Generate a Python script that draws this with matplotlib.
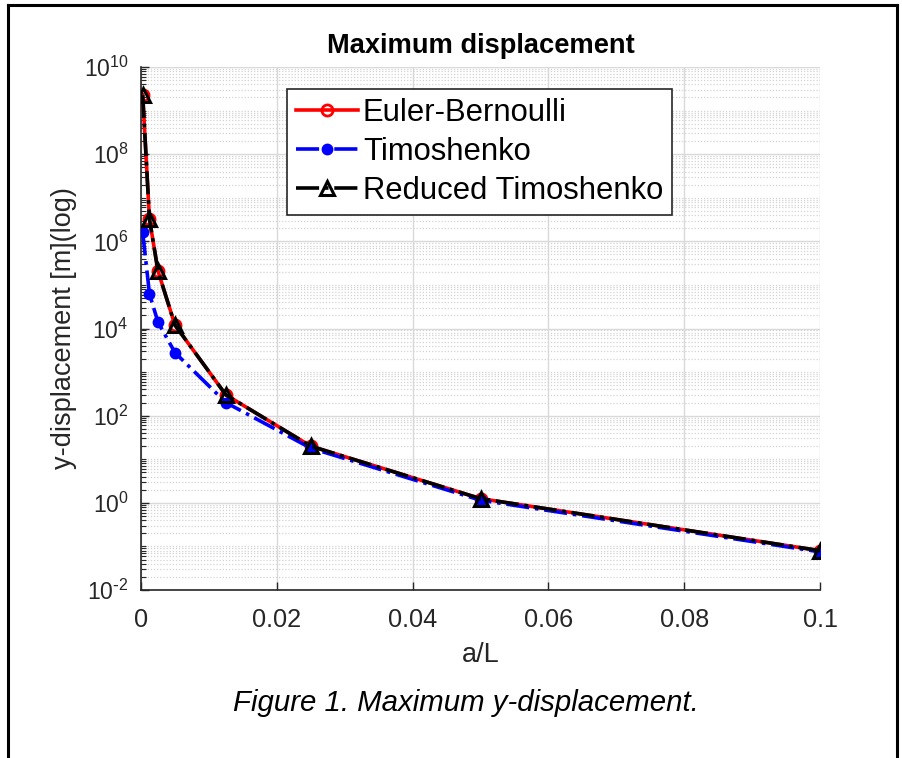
import matplotlib
matplotlib.use("Agg")
import matplotlib.pyplot as plt
from matplotlib.lines import Line2D
from matplotlib.ticker import FixedLocator, LogLocator, NullFormatter, FuncFormatter
import numpy as np

plt.rcParams['font.family'] = ['Liberation Sans', 'DejaVu Sans']
plt.rcParams['mathtext.default'] = 'regular'
plt.rcParams['axes.unicode_minus'] = False

# Data
aL = [0.00025, 0.00125, 0.0025, 0.005, 0.0125, 0.025, 0.05, 0.1]
euler = [2.3e9, 3.2e6, 2.1e5, 1.2e4, 300, 20, 1.25, 0.08]
timo = [1.6e6, 6.2e4, 1.4e4, 2.8e3, 200, 18, 1.15, 0.075]
reduced = [2.3e9, 3.2e6, 2.1e5, 1.2e4, 300, 20, 1.25, 0.08]
labels = ['Euler-Bernoulli', 'Timoshenko', 'Reduced Timoshenko']
xticks = [0, 0.02, 0.04, 0.06, 0.08, 0.1]
xticklabels = ['0', '0.02', '0.04', '0.06', '0.08', '0.1']
yticks = [1e-2, 1e0, 1e2, 1e4, 1e6, 1e8, 1e10]

W, H = 903, 758
fig = plt.figure(figsize=(W / 100, H / 100), dpi=100)
ax = fig.add_axes([141 / W, 1 - 590 / H, (820 - 141) / W, (590 - 67) / H])

axc = '#262626'
ax.plot(aL, euler, '-', color='red', lw=2.6, marker='o', ms=8, mfc='none', mew=2, label=labels[0], zorder=3)
ax.plot(aL, timo, '-.', color='blue', lw=2.6, marker='o', ms=7.5, mfc='blue', mec='blue', label=labels[1], zorder=4)
ax.plot(aL, reduced, '-.', color='black', lw=2.6, marker='^', ms=10, mfc='none', mec='black', mew=2.2, label=labels[2], zorder=5)


def ylab(v, pos):
    n = int(round(np.log10(v)))
    if n < 0:
        return r'$10^{\text{-}%d}$' % (-n)
    return r'$10^{%d}$' % n


ax.set_yscale('log')
ax.set_xlim(0, 0.1)
ax.set_ylim(1e-2, 1e10)
ax.xaxis.set_major_locator(FixedLocator(xticks))
ax.set_xticklabels(xticklabels)
ax.yaxis.set_major_locator(FixedLocator(yticks))
ax.yaxis.set_major_formatter(FuncFormatter(ylab))
ax.yaxis.set_minor_locator(LogLocator(base=10, subs=np.arange(1, 10), numticks=100))
ax.yaxis.set_minor_formatter(NullFormatter())

for s in ['top', 'right']:
    ax.spines[s].set_visible(False)
for s in ['left', 'bottom']:
    ax.spines[s].set_color(axc)
    ax.spines[s].set_linewidth(1.2)

ax.tick_params(axis='both', which='major', direction='in', length=6, width=1, colors=axc)
ax.tick_params(axis='x', pad=13, labelsize=18.2)
ax.tick_params(axis='y', pad=9, labelsize=16.5)
ax.tick_params(axis='y', which='minor', direction='in', length=3.5, width=0.8, colors=axc)

ax.grid(True, which='major', color='#d9d9d9', lw=1.0, ls='-')
ax.grid(True, which='minor', axis='y', color='#d4d4d4', lw=0.9, ls=(0, (1, 1.5)))
ax.set_axisbelow(True)

ax.set_title('Maximum displacement', fontsize=19.6, fontweight='bold', color='black', pad=10)
ax.set_xlabel('a/L', fontsize=19.5, color=axc, labelpad=7)
ax.set_ylabel('y-displacement [m](log)', fontsize=19.5, color=axc, labelpad=5)

leg = ax.legend(loc='upper left', bbox_to_anchor=(0.215, 0.958), borderaxespad=0,
                fontsize=22.3, handlelength=2.0, handletextpad=0.15, labelspacing=0.28,
                borderpad=0.3, fancybox=False, framealpha=1, edgecolor=axc)
leg.get_frame().set_linewidth(1.2)

fig.text(466 / W, 1 - 711 / H, 'Figure 1. Maximum y-displacement.', fontsize=21.2, style='italic',
         ha='center', va='baseline', color='black')

# Outer frame
kw = dict(color='black', lw=2.2, transform=fig.transFigure)
fig.add_artist(Line2D([8 / W, 8 / W], [0, 1 - 5 / H], **kw))
fig.add_artist(Line2D([8 / W, 897 / W], [1 - 5 / H, 1 - 5 / H], **kw))
fig.add_artist(Line2D([897 / W, 897 / W], [0, 1 - 5 / H], **kw))

fig.savefig('out.png', dpi=100)
